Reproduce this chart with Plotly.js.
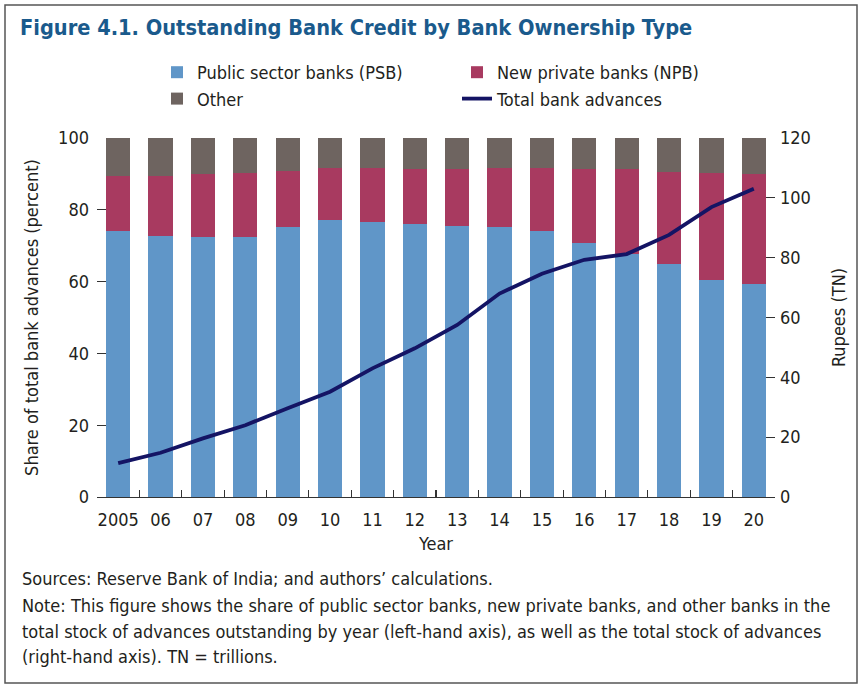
<!DOCTYPE html>
<html>
<head>
<meta charset="utf-8">
<script src="https://cdn.plot.ly/plotly-3.0.1.min.js"></script>
<style>
  html, body { margin: 0; padding: 0; background: #ffffff; }
  #chart { width: 865px; height: 690px; }
</style>
</head>
<body>
<div id="chart"></div>
<script>
// ---- data ----
const years = ["2005","06","07","08","09","10","11","12","13","14","15","16","17","18","19","20"];
const psbShare = [74.1, 72.7, 72.3, 72.3, 75.1, 77.2, 76.7, 76.0, 75.6, 75.3, 74.1, 70.7, 67.7, 64.9, 60.4, 59.4];
const npbShare = [15.3, 16.8, 17.7, 17.9, 15.8, 14.5, 15.0, 15.3, 15.7, 16.3, 17.5, 20.6, 23.6, 25.7, 29.8, 30.6];
const otherShare = [10.6, 10.5, 10.0, 9.8, 9.1, 8.3, 8.3, 8.7, 8.7, 8.4, 8.4, 8.7, 8.7, 9.4, 9.8, 10.0];
const totalAdvances = [11.3, 14.8, 19.6, 24.0, 29.7, 35.2, 43.0, 49.7, 57.5, 68.0, 74.6, 79.3, 81.2, 87.6, 96.9, 103.0];

const seriesNames = ["Public sector banks (PSB)", "New private banks (NPB)", "Other", "Total bank advances"];
const leftTicks = [0, 20, 40, 60, 80, 100];
const rightTicks = [0, 20, 40, 60, 80, 100, 120];

const FONT = "'DejaVu Sans Condensed', 'DejaVu Sans', sans-serif";
const TXT = "#231f20";
const FS = 18;

const traces = [
  { type: "bar", name: seriesNames[0], x: years, y: psbShare, marker: { color: "#6096c8" }, width: 0.57, hoverinfo: "y" },
  { type: "bar", name: seriesNames[1], x: years, y: npbShare, marker: { color: "#a83a60" }, width: 0.57, hoverinfo: "y" },
  { type: "bar", name: seriesNames[2], x: years, y: otherShare, marker: { color: "#6e6460" }, width: 0.57, hoverinfo: "y" },
  { type: "scatter", mode: "lines", name: seriesNames[3], x: years, y: totalAdvances, yaxis: "y2",
    line: { color: "#141464", width: 3.8 } }
];

// plot area in pixels: x 97..775, y 138..497
const L = 97, R = 775, T = 138, B = 497;
const pw = R - L, ph = B - T;
const px = v => (v - L) / pw;
const py = v => (B - v) / ph;

const noteLines = [
  "Sources: Reserve Bank of India; and authors\u2019 calculations.",
  "Note: This figure shows the share of public sector banks, new private banks, and other banks in the",
  "total stock of advances outstanding by year (left-hand axis), as well as the total stock of advances",
  "(right-hand axis). TN = trillions."
];
const noteY = [578, 605, 631, 656];

const annotations = noteLines.map((t, i) => ({
  text: t, xref: "paper", yref: "paper", x: px(20), y: py(noteY[i]),
  xanchor: "left", yanchor: "middle", showarrow: false,
  font: { family: FONT, size: FS, color: TXT }
}));

const layout = {
  width: 865, height: 690,
  margin: { l: L, r: 865 - R, t: T, b: 690 - B, pad: 0 },
  paper_bgcolor: "#ffffff", plot_bgcolor: "#ffffff",
  font: { family: FONT, size: FS, color: TXT },
  barmode: "stack",
  title: {
    text: "<b>Figure 4.1. Outstanding Bank Credit by Bank Ownership Type</b>",
    x: 20 / 865, xref: "container", xanchor: "left",
    y: 1 - 27 / 690, yref: "container", yanchor: "middle",
    font: { family: FONT, size: 21.6, color: "#1a5a8c" }
  },
  showlegend: true,
  legend: {
    orientation: "h", x: px(157), xanchor: "left", y: py(54), yanchor: "top",
    entrywidth: 255, entrywidthmode: "pixels",
    font: { family: FONT, size: 18, color: TXT },
    bgcolor: "rgba(0,0,0,0)", traceorder: "normal"
  },
  xaxis: {
    type: "category", range: [-0.5, 15.5],
    showline: true, linecolor: "#333333", linewidth: 1.2,
    ticks: "inside", tickson: "boundaries", ticklen: 7, tickcolor: "#333333", tickwidth: 1.2,
    tickangle: 0, ticklabelstandoff: 6,
    showgrid: false, zeroline: false, fixedrange: true,
    tickfont: { family: FONT, size: FS, color: TXT },
    title: { text: "Year", standoff: 8, font: { family: FONT, size: FS, color: TXT } }
  },
  yaxis: {
    range: [0, 100], tickvals: leftTicks, ticktext: leftTicks.map(String),
    showline: false, showgrid: false, zeroline: false,
    ticks: "inside", ticklen: 9, tickcolor: "#333333", tickwidth: 1.2,
    ticklabelstandoff: 7,
    tickfont: { family: FONT, size: FS, color: TXT },
    title: { text: "Share of total bank advances (percent)", standoff: 14, font: { family: FONT, size: FS, color: TXT } }
  },
  yaxis2: {
    overlaying: "y", side: "right", range: [0, 120], tickvals: rightTicks, ticktext: rightTicks.map(String),
    showline: false, showgrid: false, zeroline: false,
    ticks: "inside", ticklen: 9, tickcolor: "#333333", tickwidth: 1.2,
    ticklabelstandoff: 4,
    tickfont: { family: FONT, size: FS, color: TXT },
    title: { text: "Rupees (TN)", standoff: 22, font: { family: FONT, size: FS, color: TXT } }
  },
  shapes: [
    { type: "rect", xref: "paper", yref: "paper", x0: px(5), x1: px(857), y0: py(683), y1: py(5),
      line: { color: "#555555", width: 1.5 }, fillcolor: "rgba(0,0,0,0)", layer: "below" }
  ],
  annotations: annotations
};

Plotly.newPlot("chart", traces, layout, { displayModeBar: false, staticPlot: true });
</script>
</body>
</html>
